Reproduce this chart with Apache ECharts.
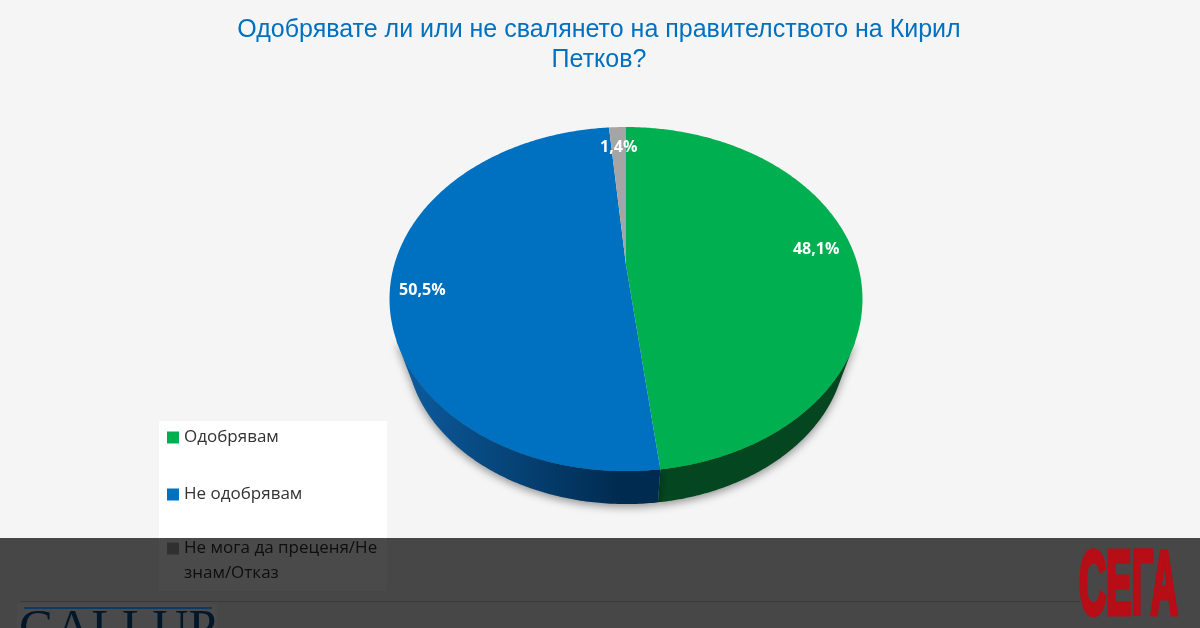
<!DOCTYPE html>
<html>
<head>
<meta charset="utf-8">
<style>
html, body { margin: 0; padding: 0; background: #f5f5f5; }
#main { width: 1200px; height: 628px; }
</style>
<script src="https://cdn.jsdelivr.net/npm/echarts@6/dist/echarts.min.js"></script>
</head>
<body>
<div id="main"></div>
<script>
// data
const categories = ['Одобрявам', 'Не одобрявам', 'Не мога да преценя/Не\nзнам/Отказ'];
const values = [48.1, 50.5, 1.4];
const valueLabels = ['48,1%', '50,5%', '1,4%'];

const topColors = ['#00b050', '#0070c0', '#a5a5a5'];
const sideColors = [
    ['#03461f', '#03461f'],
    ['#0c5c9f', '#002b50'],
    ['#4a4a4a', '#4a4a4a']
];
const labelShift = [[0, -7], [-9, 11], [0, 0]]; // label nudges, px

// the tilted disc: circle point -> picture, with perspective so the apex sits above the ellipse centre
const apexX = 626, apexY = 265, midY = 299;
const a = 231.8, b = 165.3, k = -0.198;
const lowerScale = 0.93, lowerDrop = 45; // lower rim is a bit smaller than the top one
function project(angle, t) {
    const sx = Math.sin(angle) * t, sy = -Math.cos(angle) * t;
    const d = 1 + k * sy;
    return [apexX + a * sx / d, apexY + b * sy / d];
}
function arc(from, to) {
    const pts = [];
    const n = Math.max(2, Math.ceil((to - from) / 0.01));
    for (let i = 0; i <= n; i++) pts.push(project(from + (to - from) * i / n, 1));
    return pts;
}
function lower(p) {
    return [apexX + (p[0] - apexX) * lowerScale, midY + (p[1] - midY) * lowerScale + lowerDrop];
}

const total = values.reduce((s, v) => s + v, 0);
const starts = [];
values.reduce((s, v, i) => { starts[i] = s; return s + v; }, 0);

function sliceItem(i) {
    return function (params, api) {
        const from = starts[i] / total * Math.PI * 2;
        const to = (starts[i] + values[i]) / total * Math.PI * 2;
        const rim = arc(from, to);
        const top = [project(0, 0)].concat(rim);
        const shadow = {
            shadowBlur: 9,
            shadowColor: 'rgba(0,0,0,0.4)',
            shadowOffsetY: 3
        };
        const children = [];
        // side wall, only on the front part of the rim
        const front = rim.filter(p => p[1] >= 340);
        if (front.length > 1) {
            // soft shadow under the front of the disc, hidden again by the top
            children.push({
                type: 'polygon',
                z2: 0,
                shape: { points: front },
                style: Object.assign({ fill: topColors[i] }, shadow)
            });
            const wall = front.concat(front.slice().reverse().map(lower));
            children.push({
                type: 'polygon',
                z2: 1,
                shape: { points: wall },
                style: Object.assign({
                    fill: {
                        type: 'linear', global: true, x: 400, y: 0, x2: 620, y2: 0,
                        colorStops: [
                            { offset: 0, color: sideColors[i][0] },
                            { offset: 1, color: sideColors[i][1] }
                        ]
                    }
                }, shadow)
            });
        }
        children.push({
            type: 'polygon',
            z2: 2,
            shape: { points: top },
            style: { fill: topColors[i] }
        });
        const mid = project((from + to) / 2, 0.83);
        children.push({
            type: 'text',
            z2: 3,
            x: mid[0] + labelShift[i][0],
            y: mid[1] + labelShift[i][1],
            style: {
                text: valueLabels[i],
                fill: '#fff',
                font: 'bold 16px "Open Sans"',
                align: 'center',
                verticalAlign: 'middle'
            }
        });
        return { type: 'group', children: children };
    };
}

const chart = echarts.init(document.getElementById('main'), null, { renderer: 'canvas' });
chart.setOption({
    animation: false,
    backgroundColor: '#f5f5f5',
    title: {
        text: 'Одобрявате ли или не свалянето на правителството на Кирил\nПетков?',
        left: 594,
        top: 10,
        textAlign: 'center',
        textStyle: {
            color: '#0070c0',
            fontFamily: 'Liberation Sans',
            fontSize: 25,
            fontWeight: 'normal',
            lineHeight: 30
        }
    },
    legend: {
        orient: 'vertical',
        left: 167,
        top: 397,
        height: 400,
        padding: 0,
        z: 10,
        itemWidth: 12,
        itemHeight: 12,
        itemGap: -24,
        icon: 'rect',
        // paddings keep the rows at the reference spacing
        data: [
            { name: categories[0], textStyle: { padding: [28, 0, 28, 0] } },
            { name: categories[1], textStyle: { padding: [28, 0, 28, 0] } },
            categories[2]
        ],
        // blank first line so the swatch sits on the first line of the long name
        formatter: function (name) {
            return name.indexOf('\n') >= 0 ? '\n' + name : name;
        },
        textStyle: {
            color: '#333333',
            fontFamily: 'Open Sans',
            fontSize: 17,
            lineHeight: 25
        }
    },
    // one custom series per slice so the legend can pick them up
    series: categories.map((name, i) => ({
        name: name,
        type: 'custom',
        coordinateSystem: 'none',
        color: topColors[i],
        silent: true,
        data: [values[i]],
        renderItem: sliceItem(i)
    })),
    graphic: [
        {
            type: 'rect',
            z: 1,
            shape: { x: 159, y: 421, width: 228, height: 170 },
            style: { fill: '#ffffff' }
        },
        {
            type: 'rect',
            z: 50,
            shape: { x: 17, y: 604, width: 200, height: 24 },
            style: { fill: '#ffffff' }
        },
        {
            type: 'text',
            z: 51,
            left: 19,
            top: 606,
            style: { text: 'GALLUP', fill: '#0b4f8a', font: '50px "Liberation Serif"' }
        },
        {
            type: 'rect',
            z: 52,
            shape: { x: 0, y: 538, width: 1200, height: 90 },
            style: { fill: 'rgba(0,0,0,0.71)' }
        },
        {
            type: 'rect',
            z: 53,
            shape: { x: 20, y: 601, width: 1060, height: 1 },
            style: { fill: '#3a3a3a' }
        },
        {
            type: 'rect',
            z: 53,
            shape: { x: 24, y: 607, width: 188, height: 2 },
            style: { fill: '#0c3a63' }
        },
        {
            type: 'text',
            z: 54,
            x: 1079,
            y: 544,
            scaleX: 0.42,
            scaleY: 1,
            style: {
                text: 'СЕГА',
                fill: '#b70d16',
                stroke: '#b70d16',
                lineWidth: 5,
                font: 'bold 90px "Liberation Sans"'
            }
        }
    ]
});
</script>
</body>
</html>
